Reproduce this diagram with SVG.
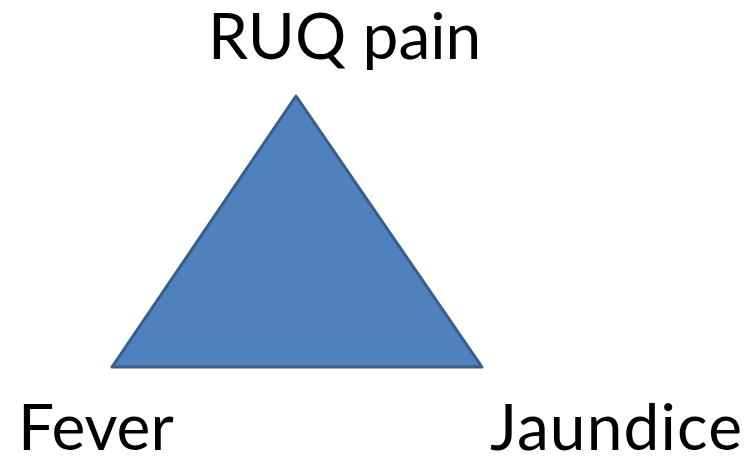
<svg xmlns="http://www.w3.org/2000/svg" width="750" height="457" viewBox="0 0 750 457">
  <style>
    .label { font-family: Lato, "Open Sans", "Liberation Sans", sans-serif; font-size: 64px; fill: #000; }
    .tri { fill: #4F81BD; stroke: #385D8A; stroke-width: 3; stroke-linejoin: round; }
  </style>
  <rect width="750" height="457" fill="#fff"/>
  <g id="triangle">
    <polygon class="tri" points="296,96 112,367 482,367"/>
  </g>
  <g id="ruq-pain">
    <text class="label" x="208" y="59">RUQ pain</text>
  </g>
  <g id="fever">
    <text class="label" x="18" y="450">Fever</text>
  </g>
  <g id="jaundice">
    <text class="label" x="490" y="450" textLength="252" lengthAdjust="spacing">Jaundice</text>
  </g>
  <g id="connectors"/>
</svg>
